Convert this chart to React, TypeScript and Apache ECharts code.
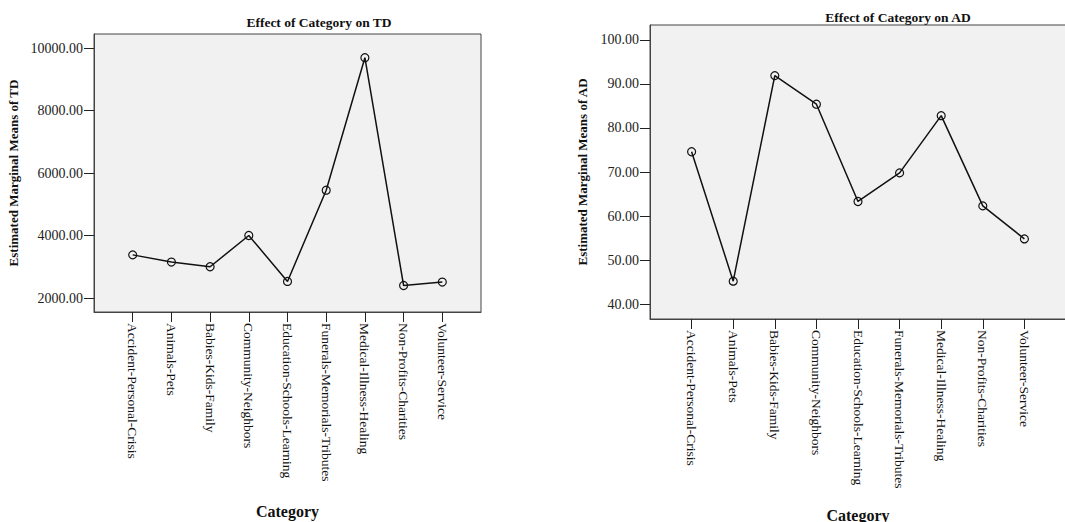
import React, { useEffect, useRef } from "react";
import * as echarts from "echarts";

const categories = [
  "Accident-Personal-Crisis",
  "Animals-Pets",
  "Babies-Kids-Family",
  "Community-Neighbors",
  "Education-Schools-Learning",
  "Funerals-Memorials-Tributes",
  "Medical-Illness-Healing",
  "Non-Profits-Charities",
  "Volunteer-Service",
];
const tdValues = [3380, 3150, 3000, 4000, 2530, 5450, 9690, 2400, 2510];
const adValues = [74.6, 45.2, 91.9, 85.4, 63.3, 69.8, 82.8, 62.3, 54.8];
const tdTicks = [2000, 4000, 6000, 8000, 10000];
const adTicks = [40, 50, 60, 70, 80, 90, 100];
const catPositions = [1, 2, 3, 4, 5, 6, 7, 8, 9];

const FONT = "'Liberation Serif', 'Times New Roman', serif";

export default function App() {
  const ref = useRef<HTMLDivElement>(null);
  useEffect(() => {
    if (!ref.current) return;
    const chart = echarts.init(ref.current, null, { renderer: "svg" });
    const xAxisBase = (gridIndex: number, gap: number) => ({
      type: "value",
      gridIndex,
      min: 0,
      max: 10,
      name: "Category",
      nameLocation: "middle",
      nameGap: gap,
      nameTextStyle: { fontFamily: FONT, fontWeight: "bold", fontSize: 16, color: "#111" },
      axisLine: { show: true, lineStyle: { color: "#444", width: 1 } },
      axisTick: { show: true, length: 10, customValues: catPositions, lineStyle: { color: "#222" } },
      axisLabel: {
        customValues: catPositions,
        rotate: -90,
        margin: 11,
        fontFamily: FONT,
        fontSize: 13.5,
        color: "#111",
        formatter: (v: number) => categories[Math.round(v) - 1] ?? "",
      },
      splitLine: { show: false },
    });
    const yAxisBase = (gridIndex: number, min: number, max: number, ticks: number[], name: string, gap: number) => ({
      type: "value",
      gridIndex,
      min,
      max,
      name,
      nameLocation: "middle",
      nameGap: gap,
      nameTextStyle: { fontFamily: FONT, fontWeight: "bold", fontSize: 13, color: "#111" },
      axisLine: { show: true, lineStyle: { color: "#444", width: 1 } },
      axisTick: { show: true, length: 10, customValues: ticks, lineStyle: { color: "#222" } },
      axisLabel: {
        customValues: ticks,
        margin: 11,
        fontFamily: FONT,
        fontSize: 14,
        color: "#222",
        formatter: (v: number) => v.toFixed(2),
      },
      splitLine: { show: false },
    });
    const seriesBase = (idx: number, values: number[]) => ({
      type: "line",
      xAxisIndex: idx,
      yAxisIndex: idx,
      data: values.map((v, i) => [catPositions[i], v]),
      symbol: "circle",
      symbolSize: 8,
      lineStyle: { color: "#111", width: 1.5 },
      itemStyle: { color: "rgba(0,0,0,0)", borderColor: "#111", borderWidth: 1.2 },
      z: 3,
    });
    chart.setOption({
      animation: false,
      backgroundColor: "#fff",
      title: [
        {
          text: "Effect of Category on TD",
          left: 319,
          top: 15,
          padding: 0,
          textAlign: "center",
          textStyle: { fontFamily: FONT, fontWeight: "bold", fontSize: 13.5, color: "#111" },
        },
        {
          text: "Effect of Category on AD",
          left: 898,
          top: 10,
          padding: 0,
          textAlign: "center",
          textStyle: { fontFamily: FONT, fontWeight: "bold", fontSize: 13.5, color: "#111" },
        },
      ],
      grid: [
        {
          left: 94,
          top: 34,
          width: 387,
          height: 278,
          outerBoundsMode: "none",
          containLabel: false,
          show: true,
          backgroundColor: "#f1f1f1",
          borderColor: "#444",
          borderWidth: 1,
        },
        {
          left: 650,
          top: 25,
          width: 416,
          height: 294,
          outerBoundsMode: "none",
          containLabel: false,
          show: true,
          backgroundColor: "#f1f1f1",
          borderColor: "#444",
          borderWidth: 1,
        },
      ],
      xAxis: [xAxisBase(0, 191), xAxisBase(1, 188)],
      yAxis: [
        yAxisBase(0, 1552, 10448, tdTicks, "Estimated Marginal Means of TD", 74),
        yAxisBase(1, 36.6, 103.4, adTicks, "Estimated Marginal Means of AD", 61),
      ],
      series: [seriesBase(0, tdValues), seriesBase(1, adValues)],
    });
    return () => chart.dispose();
  }, []);
  return (
    <div
      ref={ref}
      style={{ position: "fixed", left: 0, top: 0, width: 1065, height: 522 }}
    />
  );
}
